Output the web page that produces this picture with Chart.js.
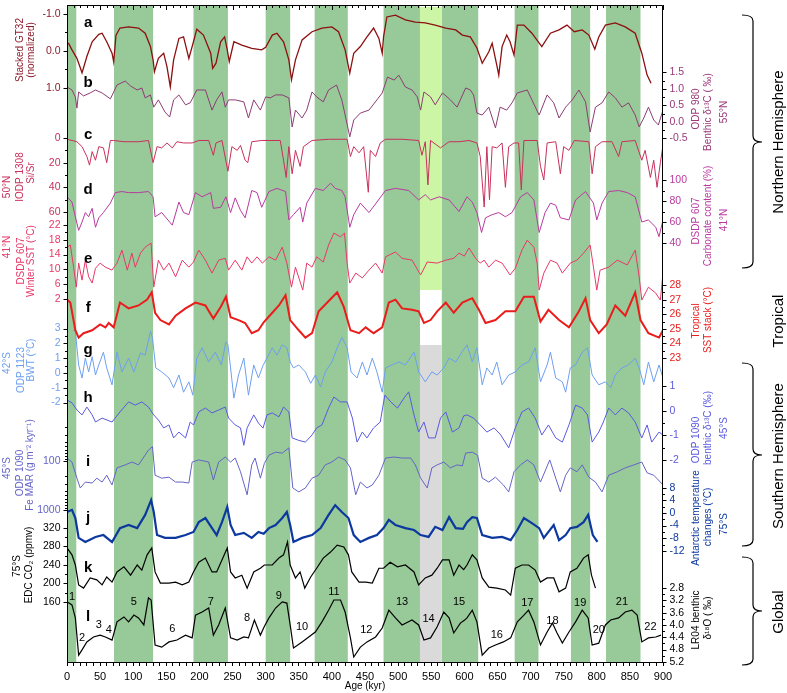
<!DOCTYPE html>
<html lang="en">
<head>
  <meta charset="UTF-8" />
  <title>Climate records 0-900 kyr</title>
  <script src="https://cdn.jsdelivr.net/npm/chart.js"></script>
  <style>
    * { margin: 0; padding: 0; box-sizing: border-box; }
    body { background: #fff; width: 787px; height: 693px; overflow: hidden; }
  </style>
</head>
<body>
  <canvas id="chart" width="787" height="693"></canvas>

  <script>
    // ---- data: [age kyr, value] ----
    // a  Stacked GT32 (normalized)
    const gtStack = [[2,-0.22],[7.5,-0.03],[15,0.2],[22.7,0.59],[30,0.15],[38,-0.25],[48,-0.45],[53,-0.48],[60,-0.25],[68,0.06],[70.5,0.29],[74,-0.43],[80,-0.62],[93,-0.65],[108,-0.62],[118,-0.48],[126,-0.12],[130,0.24],[132,0.56],[138,0.2],[146,0.06],[151,0.43],[156,0.97],[161,0.24],[169,-0.34],[176,-0.38],[184,0.2],[191,-0.25],[196,-0.59],[206,-0.43],[217,0.06],[220,0.47],[225,0.33],[232,-0.25],[238,-0.38],[242,-0.03],[245,0.29],[252,-0.25],[264,-0.16],[279,-0.07],[294,-0.03],[300,-0.1],[310,-0.43],[317,-0.48],[327,-0.25],[335,0.24],[339,0.78],[345,0.24],[355,-0.3],[370,-0.52],[385,-0.62],[400,-0.65],[410,-0.52],[420,-0.03],[427,0.6],[433,0.06],[443,-0.12],[453,-0.38],[463,-0.62],[471,-0.34],[476,0.06],[478,-0.38],[483,-0.92],[496,-0.97],[511,-0.84],[526,-0.78],[541,-0.76],[556,-0.7],[572,-0.62],[587,-0.57],[597,-0.43],[609,-0.38],[619,-0.08],[627,0.33],[637,0.02],[642,-0.21],[649,0.38],[652,0.65],[657,-0.12],[664,-0.43],[669,-0.25],[675,0.11],[680,-0.7],[690,-0.7],[702,-0.48],[717,-0.12],[730,-0.48],[743,-0.57],[755,-0.7],[766,-0.52],[778,-0.57],[788,-0.43],[797,-0.05],[803,-0.38],[813,-0.7],[828,-0.76],[843,-0.65],[858,-0.48],[868,0.06],[876,0.65],[882,0.87]];
    // b  ODP 980 benthic d13C (permil)
    const odp980 = [[0,1.06],[7.5,0.97],[12.6,0.76],[15,0.42],[17.6,0.91],[25,0.79],[35,0.88],[43,0.97],[53,0.88],[65.5,0.7],[75.5,1.12],[88,1.24],[96,1.09],[106,0.97],[113,1.03],[118,0.73],[126,0.82],[131,0.45],[138,0.67],[148,0.3],[155,0.15],[161,0.67],[169,0.82],[179,0.52],[186,0.58],[196,0.97],[209,0.97],[219,0.36],[226,0.67],[234,0.91],[239,0.45],[244,0.67],[254,0.67],[267,0.61],[274,0.12],[282,0.67],[292,0.36],[300,0.76],[307,0.73],[315,0.82],[325,0.82],[335,0.73],[340,-0.15],[345,0.36],[355,0.12],[362,0.36],[370,0.91],[377,0.76],[387,0.61],[395,0.97],[407,1.12],[415,0.67],[421,0.12],[427,-0.45],[433,0.06],[443,0.27],[456,0.36],[468,0.67],[476,0.88],[484,1.36],[494,1.27],[501,1.42],[511,1.06],[521,0.97],[529,0.76],[534,0.36],[539,0.91],[549,0.76],[556,0.52],[567,0.88],[579,0.67],[589,0.45],[602,1.03],[609,0.97],[614,0.82],[619,0.27],[627,0.21],[637,0.45],[647,-0.18],[654,0.45],[664,0.36],[672,0.58],[680,0.88],[695,0.97],[702,0.67],[713,0.21],[725,0.82],[735,0.58],[743,0.12],[753,0.45],[763,0.67],[773,0.97],[783,0.61],[790,-0.3],[798,0.45],[808,0.58],[818,0.91],[828,0.73],[838,0.45],[848,0.58],[858,0.21],[864,-0.15],[871,0.12],[878,0.45],[886,0.06],[893,-0.09],[900,0.36]];
    // c  IODP 1308 Si/Sr
    const iodp1308 = [[0,1],[15,3],[22.7,7],[30,15],[34,22],[38,11],[43,18],[48,7],[55,8],[60,20],[65.5,2],[70.5,2],[86,3],[108,3],[123,2],[130,20],[136,7],[143,8],[151,4],[159,8],[166,3],[176,4],[189,4],[199,2],[214,2],[221,14],[225,4],[234,2],[243,27],[249,7],[257,10],[262,6],[269,18],[273,20],[279,3],[294,2],[305,2],[322,2],[327,18],[331,32],[335,7],[340,29],[345,10],[352,23],[357,7],[370,2],[395,1],[423,1],[428,15],[433,7],[441,12],[448,7],[455,44],[458,10],[466,15],[473,4],[481,1],[506,1],[531,2],[536,14],[541,3],[545,38],[549,2],[564,8],[577,3],[592,3],[607,2],[619,4],[624,15],[630,56],[634,7],[638,50],[642,7],[649,8],[657,4],[662,40],[667,7],[675,4],[682,4],[686,42],[690,2],[710,2],[715,23],[720,34],[725,4],[738,3],[745,29],[750,7],[758,10],[766,2],[788,3],[793,29],[798,7],[808,3],[823,3],[833,15],[838,3],[858,2],[868,18],[873,10],[881,32],[886,18],[891,40],[896,20],[900,6]];
    // d  DSDP 607 carbonate content (%)
    const carb607 = [[0,84],[7.5,79],[12.6,65],[17.6,52],[22.7,60],[27.7,69],[32.7,65],[38,73],[43,55],[48,64],[55,69],[65.5,78],[73,88],[83,89],[93,88],[108,88],[123,89],[130,84],[133,65],[143,69],[159,57],[169,79],[176,69],[184,67],[194,88],[204,84],[217,88],[221,73],[232,74],[240,84],[247,69],[254,83],[262,71],[269,64],[279,90],[287,88],[294,74],[305,89],[317,92],[330,89],[335,62],[342,67],[352,74],[356,60],[362,78],[375,92],[387,90],[398,97],[405,92],[415,90],[420,84],[427,55],[433,67],[443,78],[456,69],[468,79],[481,90],[496,92],[516,90],[531,81],[541,86],[549,81],[562,84],[577,81],[592,70],[604,84],[612,79],[619,69],[626,50],[632,64],[642,67],[652,69],[662,65],[672,69],[685,84],[695,88],[705,81],[713,50],[722,69],[730,78],[738,76],[745,64],[758,62],[768,81],[783,89],[795,78],[800,62],[808,78],[818,89],[833,90],[846,88],[858,84],[868,60],[878,62],[889,55],[894,46],[900,62]];
    // e  DSDP 607 winter SST (degC)
    const sst607 = [[0,16],[5,16.6],[10,10.6],[14,5.2],[17.6,11.7],[22.7,7.1],[27.7,12.5],[32.7,8],[38,6.3],[43,10.3],[50,11.7],[58,10.6],[68,9.8],[75.5,11.7],[83,15.2],[91,9.8],[98,14.4],[103,10.6],[111,14.4],[118,16],[127,17.1],[131,5.2],[138,12.5],[146,9.8],[154,11.7],[164,8],[174,12.5],[184,10.6],[191,12],[199,15.2],[209,12.5],[219,9],[229,12.5],[239,13],[244,9.8],[254,12.5],[264,9.8],[272,13.4],[279,11.7],[287,13.4],[295,11.7],[305,13.4],[315,12.5],[325,16],[332,11.7],[339,5.2],[345,10.6],[356,4.4],[362,11.7],[370,10.6],[377,13.4],[387,12],[395,16.6],[403,19.8],[413,18.8],[419,19.8],[423,11.7],[427,6.3],[436,9],[446,7.7],[456,9.8],[466,11.7],[476,9],[481,13.4],[496,14.7],[506,13],[521,12.5],[534,8.5],[544,12],[559,11.7],[572,12.5],[584,13],[592,14.4],[600,13.6],[607,15.8],[617,13],[624,11.7],[630,12.5],[637,10.6],[647,12.5],[657,11.7],[669,8.5],[677,10.3],[687,15.2],[695,17.9],[705,16],[710,11.7],[713,4.4],[720,9],[730,12.5],[740,11.7],[748,9],[760,11.7],[770,12.5],[780,14.4],[790,16.6],[795,10.6],[800,4.4],[805,9.8],[818,10.6],[831,12.5],[846,11.2],[858,15.2],[864,8],[868,1.7],[878,5.2],[889,3.6],[896,1.7],[900,9]];
    // f  Tropical SST stack (degC)
    const tropSST = [[0,27],[5,26.8],[12.6,24.9],[17.6,24.4],[25,24.7],[38,24.9],[50,25.3],[58,25.1],[63,25.4],[70.5,25.1],[80,26.8],[93,26.4],[108,26.6],[121,27],[128,27.5],[133,26.1],[141,25.6],[154,25.3],[164,25.9],[179,26.4],[194,26.8],[209,26.6],[221,25.7],[232,26.5],[240,27.2],[247,25.8],[259,25.6],[269,25.4],[279,24.7],[289,24.9],[297,25.45],[310,26.1],[320,26.6],[330,27.3],[337,25.6],[350,24.9],[360,24.4],[370,24.7],[380,26.2],[393,26.8],[408,27.5],[418,26.5],[428,24.9],[441,24.7],[451,25.1],[463,24.7],[476,25.1],[486,26.8],[496,27],[506,26.4],[521,26.3],[531,26.2],[539,25.4],[549,25.6],[559,26.2],[572,26.8],[584,26.1],[597,26.8],[612,27.1],[622,26.3],[632,25.4],[647,25.6],[662,26.2],[677,26.2],[690,27.2],[705,27.2],[715,25.5],[727,26.3],[743,25.6],[758,25.1],[773,26.2],[783,27.1],[790,25.6],[803,24.7],[815,25.3],[828,26.6],[843,25.9],[858,27.5],[866,25.6],[878,24.7],[894,24.4],[900,24.9]];
    // g  ODP 1123 BWT (degC)
    const bwt1123 = [[9,2.9],[12.6,2.8],[17.6,0.54],[22.7,-0.34],[27.7,1.0],[32.7,0.07],[38,1.1],[43,-0.14],[48,0.54],[55,1.4],[60,0.34],[68,-0.8],[75.5,1.4],[83,0.07],[93,1.0],[101,0.07],[111,1.35],[118,1.2],[126,2.8],[129,2.4],[134,0.34],[143,0.07],[154,-0.34],[161,-1.0],[169,-0.14],[176,-1.3],[184,-0.6],[190,-1.5],[196,1.0],[204,1.7],[214,0.74],[224,1.4],[233,0.54],[240,2.1],[243,1.9],[247,0.34],[252,-1.7],[259,-0.14],[267,1.0],[274,-1.5],[282,0.54],[289,-0.34],[296,0.5],[302,1.0],[310,1.7],[317,1.2],[325,1.9],[332,1.7],[337,0.74],[342,0.34],[350,0.54],[360,0.07],[368,-0.7],[375,-0.14],[383,-0.95],[390,0.07],[400,0.74],[408,1.7],[415,2.4],[423,1.7],[429,0.07],[438,-0.34],[446,0.74],[453,-0.14],[461,1.0],[468,0.07],[476,-1.3],[481,0.34],[491,0.54],[501,0.74],[511,0.54],[524,1.4],[531,0.07],[541,-0.6],[551,0.07],[559,-0.14],[569,0.34],[577,1.0],[587,0.74],[597,1.45],[604,1.9],[612,0.74],[619,1.7],[627,-0.8],[634,0.34],[642,-0.14],[649,0.74],[657,-0.8],[667,-0.14],[677,0.07],[687,0.54],[697,0.74],[707,1.7],[715,-0.6],[725,0.54],[730,1.4],[738,-0.34],[748,-0.6],[753,-1.3],[760,0.34],[768,0.54],[778,1.4],[786,1.7],[793,-0.14],[803,-0.8],[813,-0.6],[821,-1.0],[828,-0.14],[838,0.34],[848,0.54],[858,1.0],[864,0.34],[871,-0.8],[878,0.74],[886,-0.6],[894,0.54],[900,-0.34]];
    // h  ODP 1090 benthic d13C (permil)
    const odp1090c = [[0,0.45],[7.5,0.33],[15,0.04],[22.7,-0.16],[30,0.16],[38,-0.16],[43,-0.45],[53,-0.29],[68,-0.45],[80,-0.04],[93,0.37],[103,0.24],[113,0.37],[123,0.16],[131,-0.16],[138,-0.37],[146,-0.69],[154,-0.57],[161,-1.1],[169,-0.86],[179,-1.1],[186,-0.45],[191,-0.57],[199,-0.04],[209,0.12],[219,-0.08],[229,0.04],[239,0.16],[244,-0.29],[254,-0.57],[262,-0.69],[267,-1.4],[272,-0.69],[282,-0.16],[289,-0.49],[296,-0.7],[302,-0.16],[310,-0.08],[320,-0.24],[327,0.16],[335,-0.04],[340,-1.1],[350,-1.2],[360,-1.27],[370,-0.98],[377,-0.69],[385,-0.57],[395,0.12],[403,0.57],[413,0.37],[423,0.37],[431,-0.29],[438,-1.27],[446,-0.86],[453,-1.1],[463,-0.69],[473,-0.45],[480,0.65],[489,0.37],[499,0.12],[509,0.53],[516,0.78],[524,-0.16],[531,-0.86],[539,-0.45],[546,-1.1],[556,-1.1],[564,-0.29],[572,-0.04],[582,-0.86],[592,-0.69],[599,-0.2],[604,-0.16],[614,-0.29],[624,-0.57],[634,-0.86],[645,-0.69],[655,-0.98],[667,-1.5],[677,-0.69],[687,-0.04],[697,0.12],[707,-0.29],[717,-0.98],[727,-0.57],[738,-1.1],[748,-1.27],[758,-0.57],[768,0.24],[778,0.12],[786,-0.16],[793,-1.27],[803,-0.86],[810,-0.45],[818,0.12],[828,-0.16],[838,0.12],[848,-0.08],[858,-0.45],[868,-1.1],[876,-0.57],[883,-1.27],[894,-0.86],[900,-0.98]];
    // i  ODP 1090 Fe MAR (g m-2 kyr-1), log axis
    const feMAR = [[0,87],[7.5,105],[15,224],[20,355],[27.7,269],[38,282],[45,224],[53,269],[60,195],[68,309],[75.5,138],[88,120],[98,105],[108,120],[116,83],[123,60],[129,51],[133,195],[143,224],[154,214],[164,269],[174,269],[184,282],[189,105],[199,95],[214,105],[221,245],[229,105],[239,83],[247,105],[254,87],[262,166],[272,490],[279,120],[284,87],[292,224],[298,112],[305,76],[315,66],[325,69],[335,54],[341,355],[350,427],[360,355],[370,224],[380,195],[390,120],[400,105],[410,83],[420,95],[428,138],[436,490],[443,269],[453,355],[461,309],[471,195],[481,87],[494,83],[506,87],[519,87],[526,120],[534,224],[544,355],[551,138],[559,120],[569,105],[579,138],[589,120],[597,126],[602,69],[612,66],[620,76],[627,224],[637,269],[647,214],[659,309],[667,427],[675,166],[685,120],[695,95],[705,120],[715,269],[729,95],[738,224],[745,427],[753,195],[760,138],[770,166],[778,120],[788,214],[798,269],[808,427],[818,195],[831,166],[843,138],[856,120],[868,105],[876,174],[886,195],[896,269],[900,309]];
    // j  Antarctic temperature changes (degC)
    const antTemp = [[0,0.3],[7.5,1.0],[12.6,-1.6],[17.6,-7.9],[27.7,-9.2],[43,-7.6],[55,-7.0],[68,-9.2],[80,-4.8],[93,-3.8],[106,-4.8],[118,-0.6],[127,4.1],[131,0.3],[136,-7.0],[148,-7.9],[164,-7.9],[179,-7.0],[191,-6.0],[199,-2.9],[209,-1.6],[219,-4.8],[226,-7.0],[234,-2.9],[242,1.9],[247,-3.8],[254,-7.0],[267,-6.3],[279,-7.9],[289,-6.0],[297,-6.6],[305,-4.8],[315,-3.8],[325,-1.6],[332,0.3],[337,-3.8],[342,-9.2],[355,-7.9],[370,-7.0],[383,-4.8],[395,-0.6],[405,2.5],[415,0.3],[425,-1.6],[433,-7.0],[443,-9.2],[456,-7.9],[468,-7.0],[478,-4.8],[486,-2.2],[496,-3.8],[511,-4.8],[524,-5.4],[534,-7.0],[546,-7.6],[556,-4.4],[567,-5.4],[577,-1.3],[587,-4.8],[598,-5.0],[604,-2.9],[612,-1.3],[619,-1.6],[627,-7.0],[642,-7.9],[657,-7.6],[670,-8.6],[680,-5.4],[690,-1.6],[702,-3.2],[713,-4.8],[720,-7.9],[727,-6.0],[735,-3.8],[743,-8.6],[753,-7.0],[760,-4.8],[770,-4.4],[780,-2.9],[787,-0.6],[794,-7.0],[801,-9.2]];
    // k  EDC CO2 (ppmv)
    const edcCO2 = [[0,277],[7.5,262],[12.6,240],[17.6,197],[25,190],[35,212],[45,208],[53,197],[60,214],[68,203],[75.5,225],[86,236],[96,218],[106,240],[113,229],[121,262],[128,277],[133,225],[141,201],[154,201],[164,203],[174,197],[184,203],[191,225],[199,246],[209,255],[219,225],[226,225],[234,251],[242,277],[247,225],[254,212],[264,218],[272,190],[282,225],[292,233],[298,240],[310,240],[320,255],[327,262],[333,290],[337,240],[345,212],[352,225],[359,190],[368,214],[377,233],[387,255],[398,268],[408,283],[418,279],[425,262],[430,225],[441,203],[451,203],[461,201],[471,233],[478,233],[488,246],[499,236],[511,240],[524,225],[531,197],[541,212],[551,218],[559,233],[567,251],[577,251],[584,218],[592,240],[599,230],[604,240],[612,262],[619,251],[627,212],[637,192],[649,190],[662,186],[670,175],[677,233],[687,240],[697,240],[707,229],[715,203],[725,212],[735,212],[743,182],[753,190],[760,225],[770,233],[780,255],[787,262],[792,218],[798,190]];
    // l  LR04 benthic d18O (permil)
    const lr04 = [[0,3.25],[7.5,3.35],[12.6,3.77],[17.6,4.98],[22.7,4.81],[30,4.55],[40,4.39],[50,4.33],[58,4.39],[68,4.49],[75.5,3.9],[86,3.74],[93,3.9],[101,3.68],[108,3.77],[116,4.0],[123,3.12],[127,3.19],[133,4.65],[143,4.72],[154,4.55],[166,4.49],[179,4.33],[189,4.42],[194,3.68],[204,3.58],[214,3.45],[221,4.33],[229,4.0],[239,3.45],[247,4.42],[257,4.49],[267,4.39],[274,4.42],[283,3.84],[292,4.33],[298,4.05],[305,3.77],[315,3.45],[325,3.25],[332,3.29],[337,4.0],[342,4.75],[355,4.55],[365,4.39],[375,4.23],[385,3.9],[395,3.52],[403,3.19],[413,3.19],[420,3.58],[428,4.42],[433,5.04],[443,4.72],[453,4.55],[466,4.39],[476,4.1],[486,3.52],[496,3.77],[506,4.0],[521,3.84],[531,4.0],[539,4.49],[549,4.42],[559,4.06],[569,3.58],[577,3.77],[584,4.26],[594,3.94],[600,3.85],[604,3.77],[612,3.52],[619,3.9],[627,4.98],[637,4.75],[647,4.65],[659,4.55],[670,4.42],[680,3.9],[690,3.68],[697,3.52],[705,3.9],[715,4.65],[725,4.23],[733,3.94],[740,4.26],[748,4.59],[758,4.23],[768,3.9],[778,3.52],[787,3.77],[793,4.65],[803,4.59],[813,4.0],[821,3.84],[833,3.77],[843,3.58],[853,3.52],[861,3.68],[868,4.55],[878,4.42],[889,4.39],[897,4.33]];

    // interglacials (green) and MIS 14 (light green / grey)
    const interglacials = [[0,14],[71,130],[191,243],[300,337],[374,424],[478,533],[566,621],[676,712],[761,790],[814,866]];
    const mis14 = [533, 566];

    // marine isotope stage numbers and ages
    const misNames = ['1','2','3','4','5','6','7','8','9','10','11','12','13','14','15','16','17','18','19','20','21','22'];
    const misAges  = [7.5,22.7,48,63,101,159,217,272,320,355,403,452,506,546,592,649,695,733,775,803,838,881];

    // tick labels for each record
    const gtTicks    = [-1.0, 0.0, 1.0];
    const c980Ticks  = [1.5, 1.0, 0.5, 0.0, -0.5];
    const sisrTicks  = [0, 20, 40, 60];
    const carbTicks  = [100, 80, 60, 40];
    const sstTicks   = [22, 18, 14, 10, 6, 2];
    const tropTicks  = [28, 27, 26, 25, 24, 23];
    const bwtTicks   = [3, 2, 1, 0, -1, -2];
    const c1090Ticks = [1, 0, -1, -2];
    const feTicks    = [100, 1000];
    const antTicks   = [8, 4, 0, -4, -8, -12];
    const co2Ticks   = [320, 280, 240, 200, 160];
    const d18oTicks  = [2.8, 3.2, 3.6, 4.0, 4.4, 4.8, 5.2];
    const ageTicks   = [0, 50, 100, 150, 200, 250, 300, 350, 400, 450, 500, 550, 600, 650, 700, 750, 800, 850, 900];

    const FONT = "'Liberation Sans', Arial, sans-serif";
    Chart.defaults.font.family = FONT;

    // every record sits on its own hidden y scale; ranges place it in its strip
    const records = [
      { id: 'yA', data: gtStack,  color: '#8c1010', tcol: '#8c1c2c', w: 1.3, min: -1.243, max: 16.514, rev: true,  side: 'left',  ticks: gtTicks,   minor: 0.5,  dec: 1, letter: 'a', ly: 23 },
      { id: 'yB', data: odp980,   color: '#8c3d73', tcol: '#9a3a7a', w: 1,   min: -16.364, max: 3.545,             side: 'right', ticks: c980Ticks, minor: 0.25, dec: 1, letter: 'b', ly: 83 },
      { id: 'yC', data: iodp1308, color: '#c8305c', tcol: '#c8305c', w: 1,   min: -107.9, max: 425.0, rev: true,   side: 'left',  ticks: sisrTicks, minor: 10,   dec: 0, letter: 'c', ly: 135 },
      { id: 'yD', data: carb607,  color: '#b83aa0', tcol: '#b83aa0', w: 1,   min: -359.05, max: 266.67,            side: 'right', ticks: carbTicks, minor: 10,   dec: 0, letter: 'd', ly: 190 },
      { id: 'yE', data: sst607,   color: '#e83868', tcol: '#e83868', w: 1,   min: -96.11, max: 81.46,              side: 'left',  ticks: sstTicks,  minor: 2,    dec: 0, letter: 'e', ly: 259 },
      { id: 'yF', data: tropSST,  color: '#ea1c1c', tcol: '#ea1c1c', w: 2,   min: 2.178, max: 47.18,               side: 'right', ticks: tropTicks, minor: 0.5,  dec: 0, letter: 'f', ly: 308 },
      { id: 'yG', data: bwt1123,  color: '#6e9ff0', tcol: '#6e9ff0', w: 1,   min: -19.53, max: 24.86,              side: 'left',  ticks: bwtTicks,  minor: 0.5,  dec: 0, letter: 'g', ly: 350 },
      { id: 'yH', data: odp1090c, color: '#5a5ae0', tcol: '#5a5ae0', w: 1,   min: -10.245, max: 16.57,             side: 'right', ticks: c1090Ticks, minor: 0.5, dec: 0, letter: 'h', ly: 398 },
      { id: 'yI', data: feMAR,    color: '#6464c8', tcol: '#6464c8', w: 1,   min: 4.94e-8, max: 1.265e6, rev: true, log: true, side: 'left', ticks: feTicks, dec: 0, letter: 'i', ly: 462 },
      { id: 'yJ', data: antTemp,  color: '#0c38a0', tcol: '#0c38a0', w: 2.2, min: -47.3, max: 161.27,              side: 'right', ticks: antTicks,  minor: 2,    dec: 0, letter: 'j', ly: 518 },
      { id: 'yK', data: edcCO2,   color: '#000000', tcol: '#000000', w: 1.2, min: 30.27, max: 1450.8,              side: 'left',  ticks: co2Ticks,  minor: 20,   dec: 0, letter: 'k', ly: 568 },
      { id: 'yL', data: lr04,     color: '#000000', tcol: '#000000', w: 1.2, min: -16.13, max: 5.2026, rev: true,  side: 'right', ticks: d18oTicks, minor: 0.2,  dec: 1, letter: 'l', ly: 617 }
    ];

    // rotated side titles: [text, x, y, colour]
    const sideTitles = [
      ['Stacked GT32', 20, 50, '#8c1c2c'], ['(normalized)', 31, 50, '#8c1c2c'],
      ['50°N', 7, 187, '#c8305c'], ['IODP 1308', 20, 177, '#c8305c'], ['Si/Sr', 31, 173, '#c8305c'],
      ['41°N', 7, 247, '#e83868'], ['DSDP 607', 21, 261, '#e83868'], ['Winter SST (°C)', 31, 261, '#e83868'],
      ['42°S', 7, 363, '#6e9ff0'], ['ODP 1123', 21, 370, '#6e9ff0'], ['BWT (°C)', 31, 360, '#6e9ff0'],
      ['45°S', 7, 468, '#6464c8'], ['ODP 1090', 20, 473, '#6464c8'], ['Fe MAR (g m\u207B\u00B2 kyr\u207B\u00B9)', 30, 465, '#6464c8'],
      ['75°S', 17, 566, '#000'], ['EDC CO\u2082 (ppmv)', 29, 565, '#000'],
      ['ODP 980', 696, 109, '#9a3a7a'], ['Benthic \u03B4\u00B9\u00B3C ( \u2030)', 708, 112, '#9a3a7a'], ['55°N', 724, 112, '#9a3a7a'],
      ['DSDP 607', 696, 221, '#b83aa0'], ['Carbonate content (%)', 708, 216, '#b83aa0'], ['41°N', 724, 220, '#b83aa0'],
      ['Tropical', 696, 321, '#ea1c1c'], ['SST stack (°C)', 708, 320, '#ea1c1c'],
      ['ODP 1090', 696, 440, '#5a5ae0'], ['benthic \u03B4\u00B9\u00B3C (\u2030)', 708, 428, '#5a5ae0'], ['45°S', 724, 428, '#5a5ae0'],
      ['Antarctic temperature', 696, 518, '#0c38a0'], ['changes (°C)', 708, 517, '#0c38a0'], ['75°S', 724, 524, '#0c38a0'],
      ['LR04 benthic', 696, 620, '#000'], ['\u03B4\u00B9\u2078O ( \u2030)', 708, 618, '#000']
    ];

    // MIS label heights (px)
    const misY = [597,638,625,630,602,629,602,618,596,627,592,630,602,619,602,635,603,621,603,630,602,627];

    function vtext(ctx, text, x, y, color, font) {
      ctx.save();
      ctx.translate(x, y);
      ctx.rotate(-Math.PI / 2);
      ctx.fillStyle = color;
      ctx.font = font;
      ctx.textAlign = 'center';
      ctx.textBaseline = 'middle';
      ctx.fillText(text, 0, 0);
      ctx.restore();
    }

    function brace(ctx, x, top, bottom, mid) {
      ctx.beginPath();
      ctx.moveTo(x - 11, top);
      ctx.quadraticCurveTo(x, top, x, top + 6);
      ctx.lineTo(x, mid - 6);
      ctx.quadraticCurveTo(x, mid, x + 9, mid);
      ctx.quadraticCurveTo(x, mid, x, mid + 6);
      ctx.lineTo(x, bottom - 6);
      ctx.quadraticCurveTo(x, bottom, x - 11, bottom);
      ctx.stroke();
    }

    const bandsPlugin = {
      id: 'bands',
      beforeDatasetsDraw(chart) {
        const { ctx, chartArea: ca, scales: { x } } = chart;
        ctx.save();
        ctx.fillStyle = '#98c998';
        interglacials.forEach(([s, e]) => {
          const x0 = x.getPixelForValue(s), x1 = x.getPixelForValue(e);
          ctx.fillRect(x0, ca.top, x1 - x0, ca.bottom - ca.top);
        });
        const m0 = x.getPixelForValue(mis14[0]), m1 = x.getPixelForValue(mis14[1]);
        ctx.fillStyle = '#cdf5a6';
        ctx.fillRect(m0, ca.top + 2, m1 - m0, 290 - ca.top - 2);
        ctx.fillStyle = '#dadada';
        ctx.fillRect(m0, 345, m1 - m0, ca.bottom - 345);
        ctx.restore();
      }
    };

    const decorPlugin = {
      id: 'decor',
      afterDraw(chart) {
        const { ctx, chartArea: ca, scales } = chart;
        const x = scales.x;
        ctx.save();
        ctx.strokeStyle = '#000';
        ctx.lineWidth = 1;

        // frame (bottom comes from the x axis)
        ctx.beginPath();
        ctx.moveTo(ca.left + 0.5, ca.bottom);
        ctx.lineTo(ca.left + 0.5, ca.top + 0.5);
        ctx.lineTo(ca.right - 0.5, ca.top + 0.5);
        ctx.lineTo(ca.right - 0.5, ca.bottom);
        ctx.stroke();

        // top ticks every 10 kyr, pointing in
        ctx.beginPath();
        for (let a = 0; a <= 900; a += 10) {
          const px = Math.round(x.getPixelForValue(a)) + 0.5;
          ctx.moveTo(px, ca.top);
          ctx.lineTo(px, ca.top + (a % 50 === 0 ? 5 : 3));
        }
        ctx.stroke();

        // y ticks + labels of every record
        records.forEach(r => {
          const s = scales[r.id];
          const x0 = r.side === 'left' ? ca.left + 0.5 : ca.right - 0.5;
          const dir = r.side === 'left' ? -1 : 1;
          let minors = [];
          if (r.log) {
            [10, 100].forEach(d => { for (let k = 2; k <= 9; k++) minors.push(k * d); });
          } else {
            const lo = Math.min(...r.ticks), hi = Math.max(...r.ticks);
            for (let v = lo; v <= hi + 1e-9; v += r.minor) minors.push(v);
          }
          ctx.beginPath();
          minors.forEach(v => {
            const py = Math.round(s.getPixelForValue(v)) + 0.5;
            ctx.moveTo(x0, py); ctx.lineTo(x0 + dir * 2.5, py);
          });
          r.ticks.forEach(v => {
            const py = Math.round(s.getPixelForValue(v)) + 0.5;
            ctx.moveTo(x0, py); ctx.lineTo(x0 + dir * 4, py);
          });
          ctx.stroke();
          ctx.fillStyle = r.tcol;
          ctx.font = '10.5px ' + FONT;
          ctx.textBaseline = 'middle';
          ctx.textAlign = r.side === 'left' ? 'right' : 'left';
          r.ticks.forEach(v => {
            ctx.fillText(v.toFixed(r.dec), x0 + dir * 7, s.getPixelForValue(v));
          });
          // panel letter
          ctx.fillStyle = '#000';
          ctx.font = 'bold 15px ' + FONT;
          ctx.textAlign = 'center';
          ctx.fillText(r.letter, x.getPixelForValue(32), r.ly);
        });

        // MIS numbers
        ctx.fillStyle = '#000';
        ctx.font = '11px ' + FONT;
        ctx.textAlign = 'center';
        ctx.textBaseline = 'middle';
        misNames.forEach((n, i) => ctx.fillText(n, x.getPixelForValue(misAges[i]), misY[i]));

        // side titles
        sideTitles.forEach(([t, tx, ty, c]) => vtext(ctx, t, tx, ty, c, '10px ' + FONT));

        // region braces and names
        ctx.lineWidth = 1.2;
        brace(ctx, 753, 15, 268, 142);
        brace(ctx, 753, 363, 546, 455);
        brace(ctx, 753, 557, 665, 611);
        vtext(ctx, 'Northern Hemisphere', 779, 142, '#000', '15px ' + FONT);
        vtext(ctx, 'Tropical', 779, 321, '#000', '15px ' + FONT);
        vtext(ctx, 'Southern Hemisphere', 779, 456, '#000', '15px ' + FONT);
        vtext(ctx, 'Global', 779, 612, '#000', '15px ' + FONT);
        ctx.restore();
      }
    };

    const scaleOpts = {
      x: {
        type: 'linear', position: 'bottom', min: 0, max: 900,
        afterBuildTicks: s => { s.ticks = []; for (let a = 0; a <= 900; a += 10) s.ticks.push({ value: a }); },
        ticks: {
          autoSkip: false, maxRotation: 0, padding: 4, color: '#000', font: { size: 11 },
          callback: v => ageTicks.includes(v) ? String(v) : ''
        },
        grid: { drawOnChartArea: false, tickLength: 4, color: '#000' },
        border: { display: true, color: '#000' },
        title: { display: true, text: 'Age (kyr)', color: '#000', font: { size: 10 }, padding: { top: 0, bottom: 1 } },
        afterFit: s => { s.height = 31; }
      }
    };
    records.forEach(r => {
      scaleOpts[r.id] = {
        type: r.log ? 'logarithmic' : 'linear', display: false,
        min: r.min, max: r.max, reverse: !!r.rev
      };
    });

    new Chart(document.getElementById('chart'), {
      type: 'line',
      data: {
        datasets: records.map(r => ({
          label: r.letter,
          data: r.data.map(([a, v]) => ({ x: a, y: v })),
          yAxisID: r.id,
          borderColor: r.color,
          borderWidth: r.w,
          pointRadius: 0,
          fill: false,
          tension: 0
        }))
      },
      options: {
        responsive: false,
        animation: false,
        layout: { padding: { left: 67, right: 124, top: 5, bottom: 0 } },
        plugins: { legend: { display: false }, tooltip: { enabled: false } },
        scales: scaleOpts
      },
      plugins: [bandsPlugin, decorPlugin]
    });
  </script>
</body>
</html>
